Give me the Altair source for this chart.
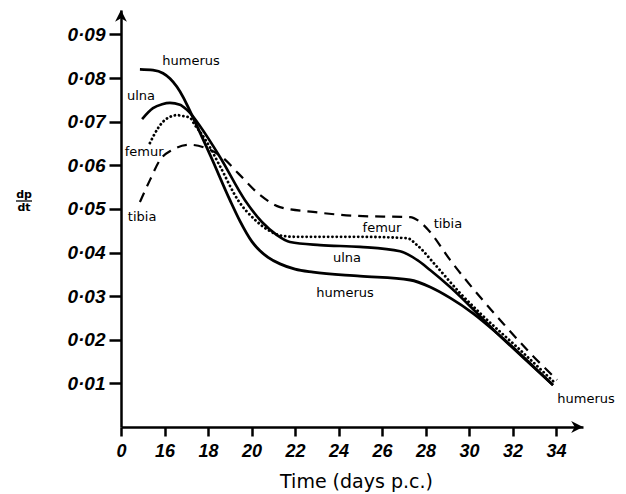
import altair as alt
import pandas as pd

# ---- data (day, dp/dt) ----
humerus_day = [14.87, 15.47, 15.93, 16.25, 16.57, 16.85, 17.08, 17.26, 18.14, 19.01, 19.47, 20.02, 20.39,
               20.76, 21.31, 22.0, 22.83, 24.99, 27.29, 28.21, 29.13, 30.2, 31.29, 33.86]
humerus_val = [0.0820, 0.0818, 0.0811, 0.0799, 0.0780, 0.0757, 0.0734, 0.0715, 0.0619, 0.0520, 0.0472, 0.0425, 0.0404,
               0.0389, 0.0374, 0.0362, 0.0355, 0.0346, 0.0337, 0.0321, 0.0296, 0.0260, 0.0215, 0.0096]

ulna_day = [14.97, 15.47, 15.89, 16.25, 16.71, 17.03, 17.26, 17.63, 18.55, 19.70, 20.48, 21.17, 21.77,
            23.15, 24.99, 26.83, 27.61, 28.21, 29.13, 31.29, 33.86]
ulna_val = [0.0706, 0.0731, 0.0740, 0.0743, 0.0739, 0.0727, 0.0715, 0.0690, 0.0619, 0.0520, 0.0470, 0.0440, 0.0424,
            0.0417, 0.0413, 0.0403, 0.0383, 0.0360, 0.0321, 0.0215, 0.0096]

femur_day = [15.33, 15.47, 15.70, 16.02, 16.25, 16.57, 16.85, 17.17, 17.40, 17.63, 17.95, 18.55, 19.38,
             20.16, 20.85, 21.45, 22.09, 24.85, 27.15, 27.61, 28.53, 29.59, 30.51, 32.34, 33.95]
femur_val = [0.0651, 0.0665, 0.0685, 0.0704, 0.0711, 0.0715, 0.0713, 0.0709, 0.0692, 0.0677, 0.0653, 0.0598, 0.0520,
             0.0475, 0.0449, 0.0438, 0.0436, 0.0436, 0.0433, 0.0417, 0.0367, 0.0307, 0.0261, 0.0177, 0.0101]

tibia_day = [14.87, 15.33, 15.79, 16.34, 17.17, 17.86, 18.69, 19.38, 20.39, 21.31, 22.83, 24.85, 27.29,
             27.75, 28.21, 29.13, 30.51, 31.56, 32.80, 34.05]
tibia_val = [0.0516, 0.0566, 0.0612, 0.0635, 0.0647, 0.0640, 0.0617, 0.0582, 0.0532, 0.0504, 0.0493, 0.0484, 0.0481,
             0.0470, 0.0447, 0.0383, 0.0298, 0.0238, 0.0170, 0.0108]

label_text = ["humerus", "ulna", "femur", "tibia", "femur", "tibia", "ulna", "humerus", "humerus"]
label_day = [17.22, 14.92, 15.06, 14.97, 26.0, 29.03, 24.39, 24.30, 35.38]
label_val = [0.0839, 0.0759, 0.0630, 0.0481, 0.0456, 0.0465, 0.0387, 0.0307, 0.0064]

x_ticks = [14, 16, 18, 20, 22, 24, 26, 28, 30, 32, 34]
y_ticks = [0.01, 0.02, 0.03, 0.04, 0.05, 0.06, 0.07, 0.08, 0.09]

X_MAX = 35.24
Y_MAX = 0.0956

rows = []
for name, ds, vs in [("humerus", humerus_day, humerus_val), ("ulna", ulna_day, ulna_val),
                     ("femur", femur_day, femur_val), ("tibia", tibia_day, tibia_val)]:
    for d, v in zip(ds, vs):
        rows.append({"series": name, "day": d, "val": v})
df = pd.DataFrame(rows)

labels = pd.DataFrame({"txt": label_text, "day": label_day, "val": label_val})

arrows = pd.DataFrame({
    "day": [X_MAX, 14],
    "val": [0, Y_MAX],
    "shape": ["M0,0 L-1,-0.5 L-0.7,0 L-1,0.5 Z", "M0,0 L-0.5,1 L0,0.7 L0.5,1 Z"],
})

tick_font = "Liberation Sans"

x_enc = alt.X("day:Q",
              scale=alt.Scale(domain=[14, X_MAX], nice=False, zero=False),
              axis=alt.Axis(values=x_ticks, title="Time (days p.c.)",
                            labelExpr="datum.value == 14 ? '0' : datum.label",
                            labelFont=tick_font, labelFontSize=18, labelFontWeight="bold",
                            labelFontStyle="italic", labelColor="black", labelPadding=6,
                            tickSize=9, tickWidth=2.5, tickColor="black",
                            domainColor="black", domainWidth=2.5, grid=False,
                            titleFont="DejaVu Sans", titleFontSize=19, titleFontWeight="normal",
                            titleColor="black", titleX=235, titleY=60, titleBaseline="alphabetic",
                            titleAlign="center", labelFlush=False))
y_enc = alt.Y("val:Q",
              scale=alt.Scale(domain=[0, Y_MAX], nice=False, zero=False),
              axis=alt.Axis(values=y_ticks, title=None,
                            labelExpr="replace(format(datum.value, '.2f'), '.', '·')",
                            labelFont=tick_font, labelFontSize=19, labelFontWeight="bold",
                            labelFontStyle="italic", labelColor="black", labelPadding=4,
                            tickSize=12, tickWidth=2.5, tickColor="black",
                            domainColor="black", domainWidth=2.5, grid=False, labelFlush=False))

base = alt.Chart(df).encode(x=x_enc, y=y_enc)

humerus = base.transform_filter(alt.datum.series == "humerus").mark_line(
    color="black", strokeWidth=2.8, interpolate="monotone")
ulna = base.transform_filter(alt.datum.series == "ulna").mark_line(
    color="black", strokeWidth=2.6, interpolate="monotone")
femur = base.transform_filter(alt.datum.series == "femur").mark_line(
    color="black", strokeWidth=2.8, interpolate="monotone", strokeDash=[0.1, 4.2], strokeCap="round")
tibia = base.transform_filter(alt.datum.series == "tibia").mark_line(
    color="black", strokeWidth=2.2, interpolate="monotone", strokeDash=[10, 7])

text = alt.Chart(labels).mark_text(font="DejaVu Sans", fontSize=13, color="black",
                                   align="center", baseline="middle").encode(
    x=x_enc, y=y_enc, text="txt:N")

arrow = alt.Chart(arrows).mark_point(filled=True, color="black", opacity=1, size=560).encode(
    x=x_enc, y=y_enc, shape=alt.Shape("shape:N", scale=None))

one = pd.DataFrame({"a": [0]})
dp = alt.Chart(one).mark_text(font="DejaVu Sans", fontSize=11, fontWeight="bold", color="black",
                              align="center", baseline="alphabetic").encode(
    x=alt.value(-97), y=alt.value(188), text=alt.value("dp"))
dt = alt.Chart(one).mark_text(font="DejaVu Sans", fontSize=11, fontWeight="bold", color="black",
                              align="center", baseline="alphabetic").encode(
    x=alt.value(-97), y=alt.value(201), text=alt.value("dt"))
bar = alt.Chart(one).mark_rule(color="black", strokeWidth=1.3).encode(
    x=alt.value(-105), x2=alt.value(-89), y=alt.value(191))

chart = alt.layer(humerus, ulna, femur, tibia, text, arrow, dp, dt, bar).properties(
    width=462, height=417,
    autosize=alt.AutoSizeParams(type="none"),
    padding={"left": 113, "top": 2, "right": 35, "bottom": 67},
).configure_view(stroke=None)

chart.save("out.html", embed_options={"renderer": "svg", "actions": False})
